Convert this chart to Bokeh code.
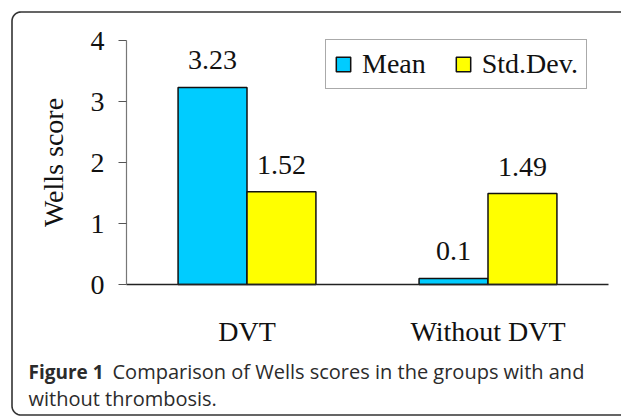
import math
from bokeh.plotting import figure
from bokeh.models import (ColumnDataSource, Range1d, LabelSet, Label,
                          Legend, LegendItem, FixedTicker)
from bokeh.transform import dodge
from bokeh.embed import file_html
from bokeh.resources import INLINE

categories = ["DVT", "Without DVT"]
mean_vals = [3.23, 0.1]
std_vals = [1.52, 1.49]
mean_labels = ["3.23", "0.1"]
std_labels = ["1.52", "1.49"]
y_ticks = [0, 1, 2, 3, 4]

SERIF = "Liberation Serif"
FS = "28px"
W, H = 621, 417

# category positions on a numeric axis (centres at 0.5, 1.5)
cat_pos = [i + 0.5 for i in range(len(categories))]

src = ColumnDataSource(dict(x=cat_pos, mean=mean_vals, std=std_vals,
                            mean_lab=mean_labels, std_lab=std_labels))

# frame covers the whole canvas; axes are pinned with fixed_location
px_x = 241.0   # pixels per category
px_y = 61.0    # pixels per unit
x0_px, y0_px = 126.0, 284.0
x_range = Range1d(-x0_px / px_x, (W - x0_px) / px_x)
y_range = Range1d(-(H - y0_px) / px_y, y0_px / px_y)

p = figure(width=W, height=H, x_range=x_range, y_range=y_range,
           output_backend="svg", toolbar_location=None,
           min_border=0, min_border_left=0, min_border_right=0,
           min_border_top=0, min_border_bottom=0)
p.outline_line_color = None
p.xgrid.grid_line_color = None
p.ygrid.grid_line_color = None
p.background_fill_color = "white"
p.border_fill_color = "white"

# rounded outer border (open on the right, as in the reference crop);
# built in canvas pixels, then mapped to the frame's data space
L, T, B, R, rad = 11.5, 11.5, 414.5, W + 5, 9.0
bpx, bpy = [R], [B]
for k in range(0, 10):  # bottom-left corner
    a = math.pi / 2 + (math.pi / 2) * k / 9
    bpx.append(L + rad + rad * math.cos(a))
    bpy.append(B - rad + rad * math.sin(a))
for k in range(0, 10):  # top-left corner
    a = math.pi + (math.pi / 2) * k / 9
    bpx.append(L + rad + rad * math.cos(a))
    bpy.append(T + rad + rad * math.sin(a))
bpx.append(R)
bpy.append(T)
border_x = [(v - x0_px) / px_x for v in bpx]
border_y = [(y0_px - v) / px_y for v in bpy]
p.line(border_x, border_y, line_color="#333333", line_width=1.6)

bw = 0.286
r1 = p.vbar(x=dodge("x", -bw / 2), top="mean", width=bw, source=src,
            fill_color="#00CCFF", line_color="#111111", line_width=1.5)
r2 = p.vbar(x=dodge("x", bw / 2), top="std", width=bw, source=src,
            fill_color="#FFFF00", line_color="#111111", line_width=1.5)

p.add_layout(LabelSet(x=dodge("x", -bw / 2), y="mean", text="mean_lab",
                      source=src, y_offset=18, text_align="center", text_baseline="alphabetic",
                      text_font=SERIF, text_font_size=FS, text_color="#111111"))
p.add_layout(LabelSet(x=dodge("x", bw / 2), y="std", text="std_lab",
                      source=src, y_offset=18, text_align="center", text_baseline="alphabetic",
                      text_font=SERIF, text_font_size=FS, text_color="#111111"))

# y axis
ya = p.yaxis[0]
ya.fixed_location = 0
ya.bounds = (0, 4)
ya.ticker = FixedTicker(ticks=y_ticks)
ya.axis_label = "Wells score"
ya.axis_label_text_font = SERIF
ya.axis_label_text_font_size = FS
ya.axis_label_text_font_style = "normal"
ya.axis_label_text_color = "#111111"
ya.axis_label_standoff = 19
ya.major_label_text_font = SERIF
ya.major_label_text_font_size = FS
ya.major_label_text_color = "#111111"
ya.major_label_standoff = 14
ya.major_tick_out = 8
ya.major_tick_in = 0
ya.minor_tick_out = 0
ya.minor_tick_in = 0
ya.axis_line_color = "#777777"
ya.major_tick_line_color = "#555555"
ya.axis_line_width = 1.2

# x axis
xa = p.xaxis[0]
xa.fixed_location = 0
xa.bounds = (0, len(categories))
xa.ticker = FixedTicker(ticks=cat_pos)
xa.minor_tick_out = 0
xa.minor_tick_in = 0
xa.major_label_overrides = {pos: c for pos, c in zip(cat_pos, categories)}
xa.major_label_text_font = SERIF
xa.major_label_text_font_size = FS
xa.major_label_text_color = "#111111"
xa.major_label_standoff = 31
xa.major_tick_out = 0
xa.major_tick_in = 0
xa.axis_line_color = "#222222"
xa.axis_line_width = 1.5

legend = Legend(items=[LegendItem(label="Mean", renderers=[r1]),
                       LegendItem(label="Std.Dev.", renderers=[r2])],
                orientation="horizontal", location=(325, H - 89),
                glyph_width=18, glyph_height=18, label_standoff=10, spacing=28,
                padding=8, margin=0,
                label_text_font=SERIF, label_text_font_size=FS, label_text_color="#111111",
                border_line_color="#555555", border_line_width=1.2,
                background_fill_alpha=1.0)
p.add_layout(legend, "center")

# caption
cap_color = "#2b2b2b"
CAP_FONT = "Open Sans"
p.add_layout(Label(x=28, y=H - 371, x_units="screen", y_units="screen", text="Figure 1",
                   text_font=CAP_FONT, text_font_size="19px", text_font_style="bold",
                   text_color=cap_color, text_baseline="alphabetic"))
p.add_layout(Label(x=112, y=H - 371, x_units="screen", y_units="screen",
                   text="Comparison of Wells scores in the groups with and",
                   text_font=CAP_FONT, text_font_size="20px",
                   text_color=cap_color, text_baseline="alphabetic"))
p.add_layout(Label(x=28, y=H - 398, x_units="screen", y_units="screen",
                   text="without thrombosis.",
                   text_font=CAP_FONT, text_font_size="20px",
                   text_color=cap_color, text_baseline="alphabetic"))

open("out.html", "w").write(file_html(p, INLINE))
